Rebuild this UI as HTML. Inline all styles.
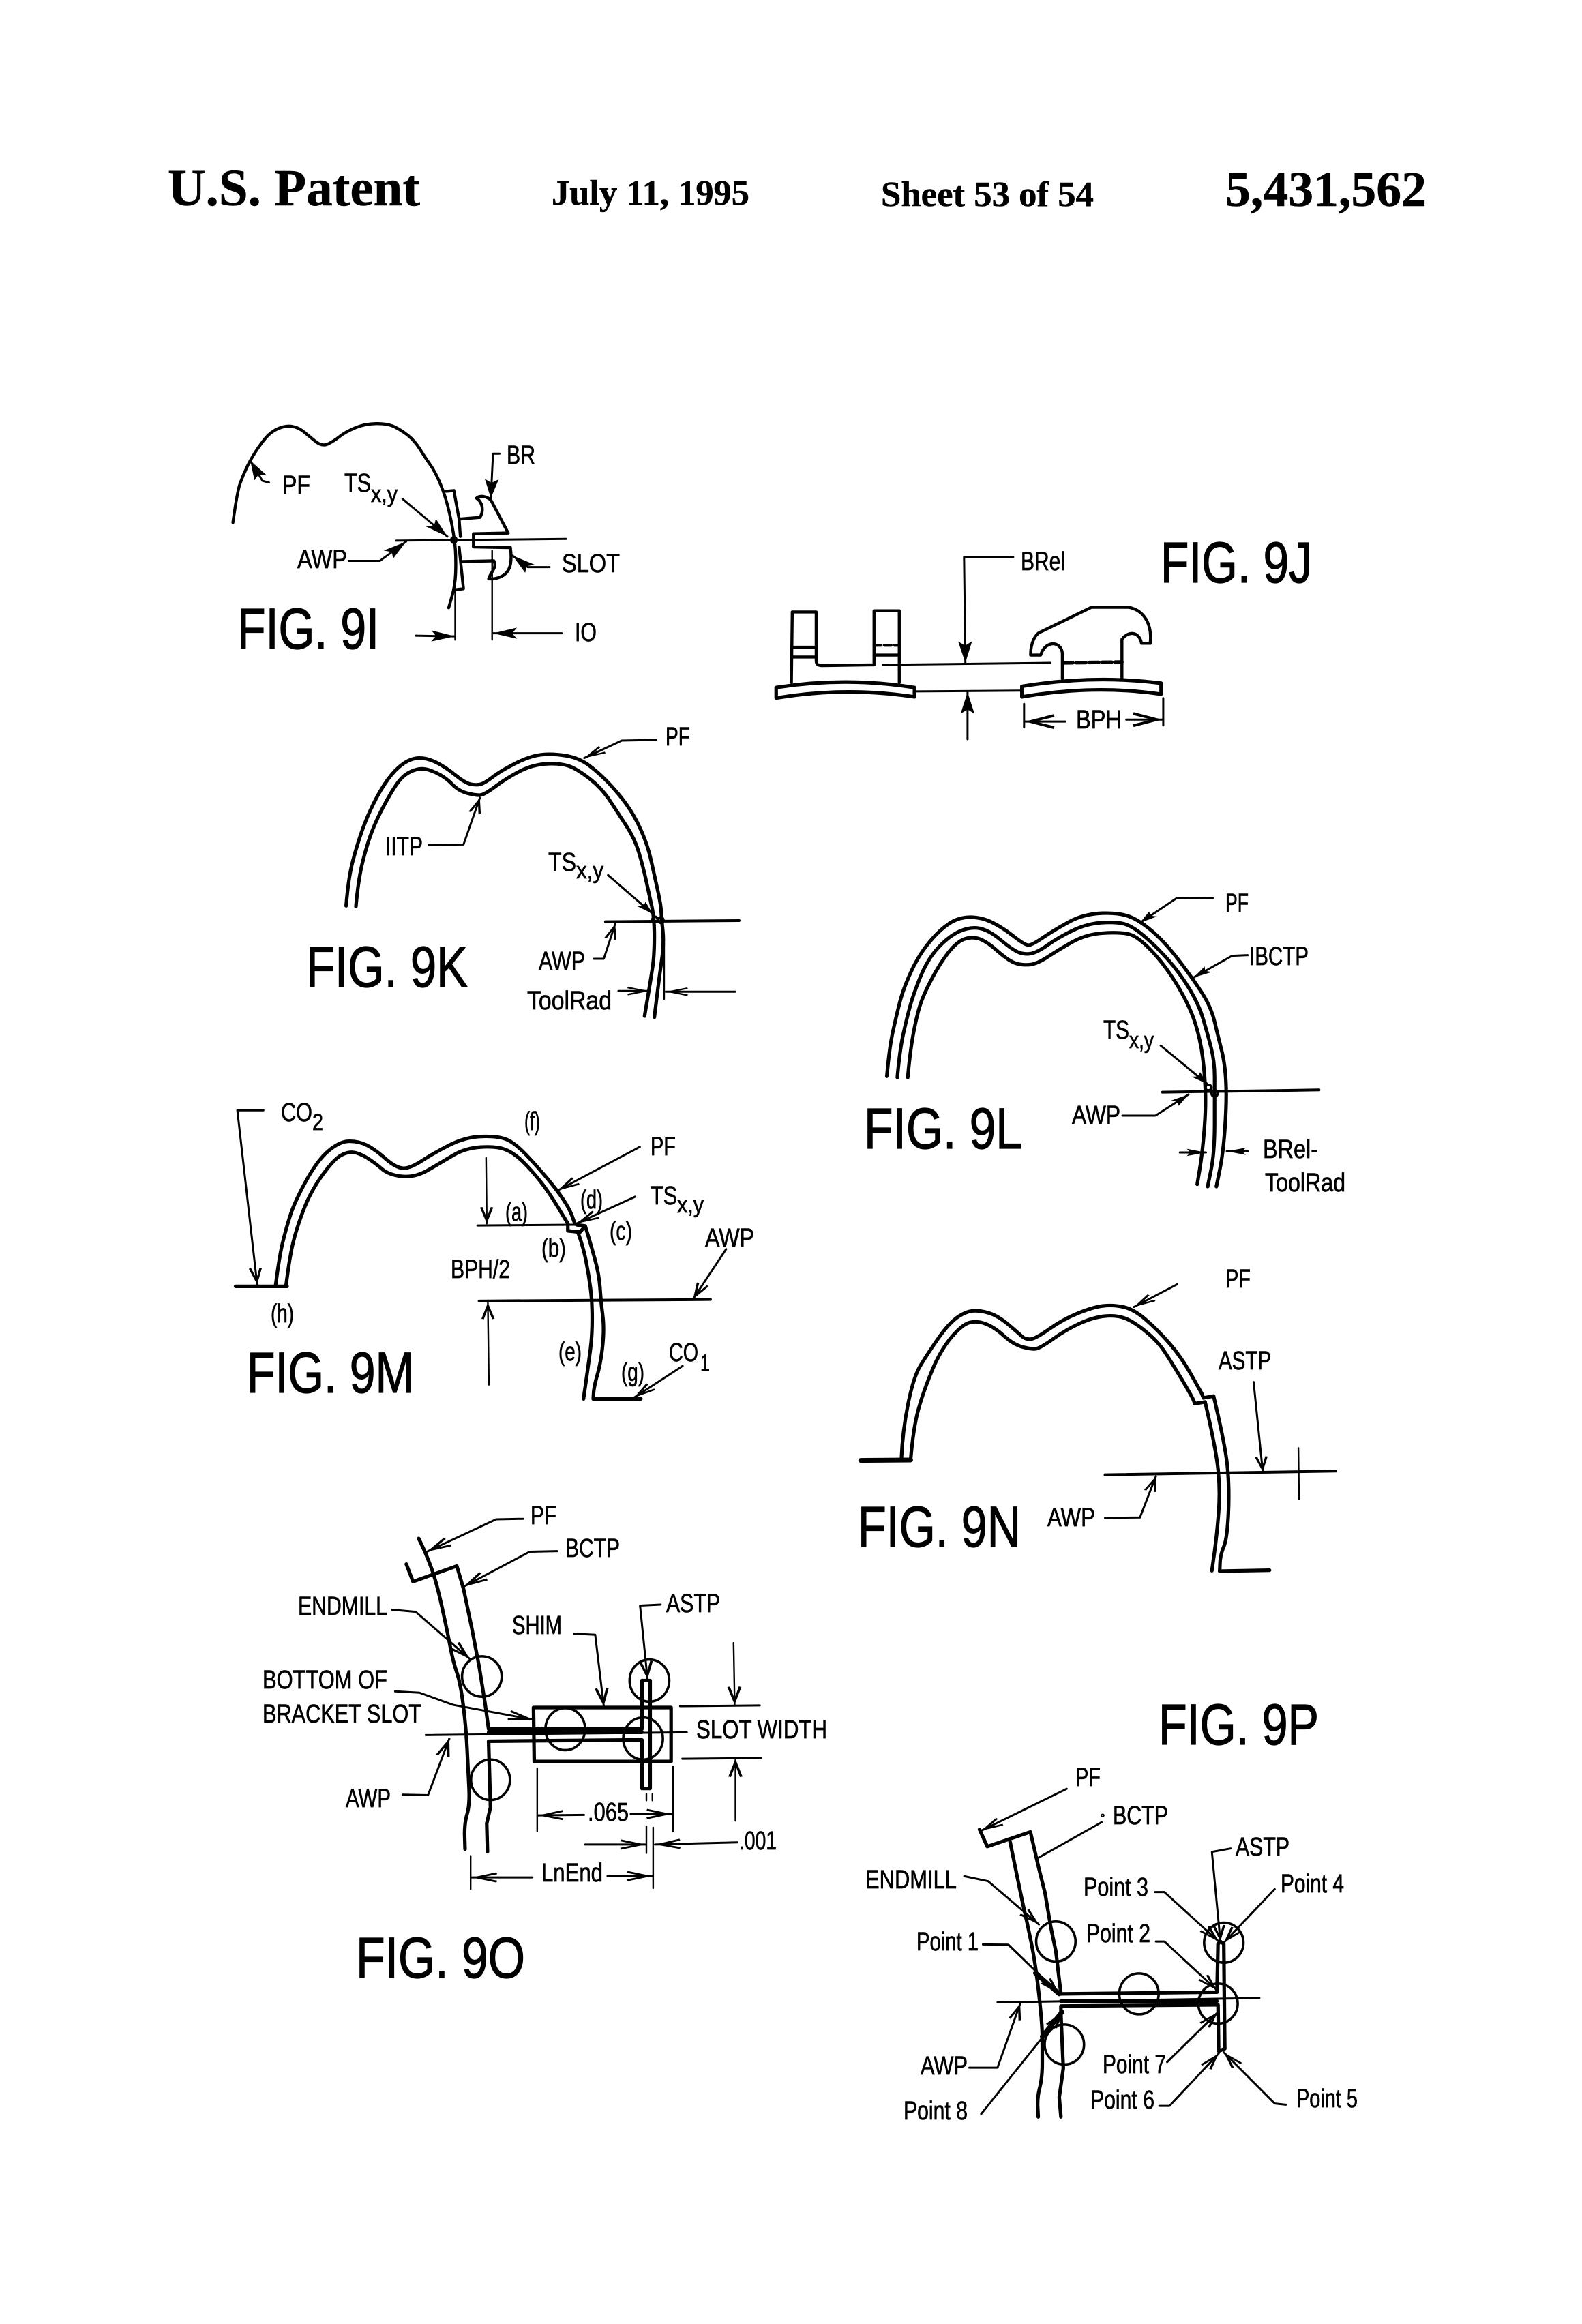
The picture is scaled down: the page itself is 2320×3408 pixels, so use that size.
<!DOCTYPE html>
<html>
<head>
<meta charset="utf-8">
<style>
html,body{margin:0;padding:0;background:#fff}
svg{display:block}
.d path,.d ellipse,.d line{fill:none;stroke:#000;stroke-width:3;stroke-linejoin:round;stroke-linecap:round;vector-effect:non-scaling-stroke}
.d ellipse{stroke-width:3.6}
.d path.t{stroke-width:5.2}
.d path.v{stroke-width:7}
.d path.n{stroke-width:2.4}
text{font-family:"Liberation Sans",sans-serif;fill:#000;stroke:#000;stroke-width:.7px;font-size:38px}
text.f{font-size:84px;stroke-width:1.3px}
text.s{font-size:34px}
text.h{font-family:"Liberation Serif",serif;font-weight:bold;stroke-width:.5px}
</style>
</head>
<body>
<svg xmlns="http://www.w3.org/2000/svg" width="2320" height="3408" viewBox="0 0 2320 3408">
<defs>
<marker id="a" markerUnits="userSpaceOnUse" markerWidth="100" markerHeight="60" refX="70" refY="30" orient="auto"><path d="M70,30 L15,14 L26,30 L15,46 Z" fill="#000" stroke="none"/></marker>
<marker id="b" markerUnits="userSpaceOnUse" markerWidth="100" markerHeight="60" refX="70" refY="30" orient="auto"><path d="M70,30 L4,11 L2,18 L46,30 L2,42 L4,49 Z" fill="#000" stroke="none"/></marker>
</defs>
<rect width="2320" height="3408" fill="#fff"/>

<!-- Header -->
<text class="h" x="246" y="301" style="font-size:76px" textLength="370" lengthAdjust="spacingAndGlyphs">U.S. Patent</text>
<text class="h" x="809" y="300" style="font-size:52px" textLength="290" lengthAdjust="spacingAndGlyphs">July 11, 1995</text>
<text class="h" x="1292" y="302" style="font-size:52px" textLength="312" lengthAdjust="spacingAndGlyphs">Sheet 53 of 54</text>
<text class="h" x="1797" y="302" style="font-size:73px" textLength="295" lengthAdjust="spacingAndGlyphs">5,431,562</text>

<!-- FIG 9I -->
<g class="d" transform="translate(200,200) scale(0.6378,0.5102)">
<path class="t c" style="stroke-width:4.4px" d="M222,1110 L232,1020 245,975 262,930 285,885 310,848 345,830 375,838 400,865 428,892 455,875 480,850 525,826 578,825 610,845 640,875 665,925 685,960 705,1015 720,1080 732,1160 735,1220 733,1290 718,1355"/>
<path class="t" style="stroke-width:4.4px" d="M712,1020 L730,1018 742,1100 745,1150 M742,1180 L752,1300 L733,1303"/>
<path class="t" style="stroke-width:4.4px" d="M742,1100 L790,1095 C800,1075 795,1050 782,1040 C790,1030 805,1035 815,1045 L855,1140 L775,1142 L775,1180 L860,1182 C865,1230 860,1265 820,1272 L810,1272 C815,1250 830,1240 822,1220 L750,1222"/>
<path d="M597,1162 L988,1157"/>
<ellipse cx="730" cy="1160" rx="6" ry="8"/>
<path class="n" d="M733,1305 L733,1447 M818,1190 L818,1447"/>
<path d="M305,995 L290,990 L262,932" marker-end="url(#a)"/>
<path d="M612,1042 L715,1150" marker-end="url(#a)"/>
<path d="M488,1220 L560,1220 L620,1165" marker-end="url(#a)"/>
<path d="M835,912 L820,912 L815,1040" marker-end="url(#a)"/>
<path d="M950,1238 L900,1238 L865,1205" marker-end="url(#a)"/>
<path d="M642,1435 L733,1437" marker-end="url(#a)"/>
<path d="M978,1428 L820,1428" marker-end="url(#a)"/>
</g>
<text x="414" y="724" textLength="41" lengthAdjust="spacingAndGlyphs">PF</text>
<text x="743" y="680" textLength="42" lengthAdjust="spacingAndGlyphs">BR</text>
<text x="505" y="721" textLength="39" lengthAdjust="spacingAndGlyphs">TS</text>
<text class="s" x="544" y="736" textLength="39" lengthAdjust="spacingAndGlyphs">x,y</text>
<text x="436" y="833" textLength="73" lengthAdjust="spacingAndGlyphs">AWP</text>
<text x="824" y="839" textLength="85" lengthAdjust="spacingAndGlyphs">SLOT</text>
<text class="f" x="348" y="951" textLength="208" lengthAdjust="spacingAndGlyphs">FIG. 9I</text>
<text x="843" y="940" textLength="32" lengthAdjust="spacingAndGlyphs">IO</text>

<!-- FIG 9J -->
<g class="d" transform="translate(1100,200) scale(0.6378,0.574)">
<path class="t" style="stroke-width:4.4px" d="M95,1395 L97,1215 L152,1215 L152,1340 Q152,1352 165,1352 L285,1350 L285,1212 L343,1212 L343,1395"/>
<path class="t" style="stroke-width:4.4px" d="M97,1305 L152,1305 M97,1330 L152,1330 M285,1325 L343,1325"/>
<path class="t" style="stroke-width:4.4px" d="M285,1300 L343,1300" stroke-dasharray="10 5"/>
<path class="t" d="M60,1408 Q220,1380 378,1408 L378,1432 Q220,1405 60,1435 Z"/>
<path class="t" d="M625,1405 Q790,1375 945,1397 L945,1425 Q790,1400 625,1432 Z"/>
<path class="t" style="stroke-width:4.4px" d="M718,1385 L718,1320 C715,1290 680,1285 668,1325 L645,1325 C645,1295 655,1270 670,1265 L785,1203 L870,1203 C905,1210 925,1245 920,1295 L900,1295 C895,1265 870,1262 855,1285 L855,1385"/>
<path class="t" d="M720,1345 L855,1343" stroke-dasharray="14 5"/>
<path d="M305,1350 L690,1345 M378,1418 L625,1416"/>
<path d="M605,1075 L492,1075 L495,1345" marker-end="url(#a)"/>
<path d="M500,1540 L500,1420" marker-end="url(#a)"/>
<path d="M630,1450 L630,1510 M950,1435 L950,1505"/>
<path d="M725,1495 L632,1495" marker-end="url(#b)"/>
<path d="M865,1490 L948,1490" marker-end="url(#b)"/>
</g>
<text x="1497" y="836" textLength="65" lengthAdjust="spacingAndGlyphs">BRel</text>
<text class="f" x="1702" y="854" textLength="222" lengthAdjust="spacingAndGlyphs">FIG. 9J</text>
<text x="1578" y="1068" textLength="67" lengthAdjust="spacingAndGlyphs">BPH</text>

<!-- FIG 9K -->
<g class="d" transform="translate(400,1050) scale(0.4783,0.3333)">
<path class="t c" d="M225,835 L232,710 260,560 290,440 330,325 375,235 425,185 475,185 530,225 590,295 625,305 650,295 700,240 790,175 860,165 940,185 1000,250 1060,340 1110,440 1150,570 1170,700 1190,830 1192,890 1200,1000 1185,1150 1170,1325"/>
<path class="t c" d="M255,838 L262,720 290,560 320,450 365,330 400,260 445,230 480,235 530,270 570,330 625,350 650,345 720,270 800,212 890,208 940,240 1010,320 1060,430 1110,540 1135,660 1155,790 1170,890 1170,1050 1160,1150 1140,1320"/>
<path class="t" style="stroke-width:4px" d="M1020,905 L1430,900"/>
<ellipse cx="1172" cy="895" rx="8" ry="12"/><ellipse cx="1190" cy="898" rx="8" ry="12"/>
<path d="M1175,105 L1070,108 L955,185" marker-end="url(#b)"/>
<path d="M478,567 L585,565 L635,360" marker-end="url(#b)"/>
<path d="M1028,700 L1165,870" marker-end="url(#a)"/>
<path d="M985,1068 L1015,1068 L1050,915" marker-end="url(#b)"/>
<path d="M1060,1210 L1155,1210" marker-end="url(#b)"/>
<path d="M1418,1213 L1205,1213" marker-end="url(#b)"/>
<path class="n" d="M1200,1000 L1200,1245"/>
</g>
<text x="976" y="1093" textLength="36" lengthAdjust="spacingAndGlyphs">PF</text>
<text x="565" y="1254" textLength="55" lengthAdjust="spacingAndGlyphs">IITP</text>
<text x="804" y="1277" textLength="41" lengthAdjust="spacingAndGlyphs">TS</text>
<text class="s" x="845" y="1288" textLength="40" lengthAdjust="spacingAndGlyphs">x,y</text>
<text x="790" y="1422" textLength="68" lengthAdjust="spacingAndGlyphs">AWP</text>
<text class="f" x="449" y="1447" textLength="237" lengthAdjust="spacingAndGlyphs">FIG. 9K</text>
<text x="773" y="1480" textLength="124" lengthAdjust="spacingAndGlyphs">ToolRad</text>

<!-- FIG 9L -->
<g class="d" transform="translate(1220,1260) scale(0.5102,0.3333)">
<path class="t c" d="M158,955 L165,830 185,690 205,570 250,420 310,310 365,255 430,255 490,300 555,378 575,378 640,310 725,240 830,235 890,275 960,370 1035,520 1090,650 1110,780 1130,900 1135,1060 1125,1290 1105,1440"/>
<path class="t c" d="M188,960 L195,840 215,700 235,590 275,440 335,340 395,297 450,310 520,400 555,420 590,410 650,345 730,285 810,275 860,290 930,380 1000,500 1055,640 1080,770 1100,890 1100,1030 1100,1290 1080,1440"/>
<path class="t c" d="M218,960 L225,840 245,680 265,590 310,460 355,370 395,340 440,355 510,450 550,467 590,460 650,400 730,330 830,320 880,340 960,470 1030,650 1060,800 1072,950 1075,1100 1065,1290 1050,1430"/>
<path class="t" style="stroke-width:4px" d="M950,1025 L1400,1015"/>
<ellipse cx="1082" cy="1005" rx="9" ry="12"/><ellipse cx="1100" cy="1030" rx="9" ry="14"/>
<path d="M1095,170 L990,172 L885,280" marker-end="url(#a)"/>
<path d="M1195,422 L1150,425 L1040,520" marker-end="url(#a)"/>
<path d="M945,820 L1080,990" marker-end="url(#a)"/>
<path d="M835,1128 L930,1128 L1025,1035" marker-end="url(#a)"/>
<path d="M1000,1290 L1075,1290" marker-end="url(#a)"/>
<path d="M1195,1285 L1135,1285" marker-end="url(#a)"/>
</g>
<text x="1797" y="1337" textLength="34" lengthAdjust="spacingAndGlyphs">PF</text>
<text x="1832" y="1415" textLength="87" lengthAdjust="spacingAndGlyphs">IBCTP</text>
<text x="1618" y="1523" textLength="38" lengthAdjust="spacingAndGlyphs">TS</text>
<text class="s" x="1656" y="1537" textLength="36" lengthAdjust="spacingAndGlyphs">x,y</text>
<text x="1572" y="1648" textLength="71" lengthAdjust="spacingAndGlyphs">AWP</text>
<text class="f" x="1267" y="1684" textLength="232" lengthAdjust="spacingAndGlyphs">FIG. 9L</text>
<text x="1852" y="1698" textLength="81" lengthAdjust="spacingAndGlyphs">BRel-</text>
<text x="1855" y="1747" textLength="118" lengthAdjust="spacingAndGlyphs">ToolRad</text>

<!-- FIG 9M -->
<g class="d" transform="translate(320,1580) scale(0.5102,0.3571)">
<path class="t c" d="M165,855 L175,740 195,620 220,510 285,340 350,262 405,262 450,295 510,370 550,375 620,310 710,245 800,240 850,265 920,370 975,465 1010,540 1025,600"/>
<path class="t c" d="M195,855 L205,740 225,620 265,470 330,340 370,305 405,310 450,350 490,400 565,412 640,350 710,290 800,282 850,310 900,380 950,470 1005,600"/>
<path class="t" d="M1005,600 L1005,630 1040,635 1055,610 1030,605"/>
<path class="t c" d="M1055,610 L1070,680 1095,810 1100,920 1110,1030 1100,1170 1080,1270 1078,1320"/>
<path class="t" d="M1078,1320 L1215,1320"/>
<path class="t c" d="M1035,640 L1050,700 1065,810 1075,920 1075,1060 1065,1170 1050,1320"/>
<path class="t" d="M50,858 L198,858"/>
<path d="M745,608 L1030,605"/>
<path class="t" style="stroke-width:4px" d="M750,918 L1415,912"/>
<path d="M130,135 L55,135 L112,850" marker-end="url(#b)"/>
<path class="n" d="M770,330 L772,600" marker-end="url(#b)"/>
<path class="n" d="M778,1262 L775,925" marker-end="url(#b)"/>
<path d="M1212,285 L975,465" marker-end="url(#b)"/>
<path d="M1198,490 L1030,600" marker-end="url(#b)"/>
<path d="M1460,705 L1365,910" marker-end="url(#b)"/>
<path d="M1335,1185 L1195,1315" marker-end="url(#b)"/>
</g>
<text x="412" y="1644" textLength="46" lengthAdjust="spacingAndGlyphs">CO</text>
<text class="s" x="458" y="1657" textLength="16" lengthAdjust="spacingAndGlyphs">2</text>
<text x="769" y="1657" textLength="23" lengthAdjust="spacingAndGlyphs">(f)</text>
<text x="954" y="1694" textLength="37" lengthAdjust="spacingAndGlyphs">PF</text>
<text x="741" y="1790" textLength="33" lengthAdjust="spacingAndGlyphs">(a)</text>
<text x="851" y="1772" textLength="33" lengthAdjust="spacingAndGlyphs">(d)</text>
<text x="954" y="1766" textLength="39" lengthAdjust="spacingAndGlyphs">TS</text>
<text class="s" x="993" y="1778" textLength="39" lengthAdjust="spacingAndGlyphs">x,y</text>
<text x="894" y="1818" textLength="33" lengthAdjust="spacingAndGlyphs">(c)</text>
<text x="794" y="1843" textLength="36" lengthAdjust="spacingAndGlyphs">(b)</text>
<text x="1034" y="1828" textLength="72" lengthAdjust="spacingAndGlyphs">AWP</text>
<text x="661" y="1874" textLength="87" lengthAdjust="spacingAndGlyphs">BPH/2</text>
<text x="397" y="1939" textLength="34" lengthAdjust="spacingAndGlyphs">(h)</text>
<text x="819" y="1995" textLength="34" lengthAdjust="spacingAndGlyphs">(e)</text>
<text x="911" y="2025" textLength="34" lengthAdjust="spacingAndGlyphs">(g)</text>
<text x="981" y="1996" textLength="43" lengthAdjust="spacingAndGlyphs">CO</text>
<text class="s" x="1027" y="2010" textLength="14" lengthAdjust="spacingAndGlyphs">1</text>
<text class="f" x="362" y="2042" textLength="245" lengthAdjust="spacingAndGlyphs">FIG. 9M</text>

<!-- FIG 9N -->
<g class="d" transform="translate(1220,1800) scale(0.4975,0.3333)">
<path class="v" d="M85,1025 L232,1023"/>
<path class="t c" d="M205,1015 L208,900 240,660 280,560 345,420 400,365 450,368 495,395 550,465 570,493 600,490 680,405 770,350 830,340 890,360 960,450 1030,570 1090,730"/>
<path class="t" d="M1090,730 L1095,750 1125,742"/>
<path class="t c" d="M1125,742 L1160,960 1172,1150 1165,1370 1145,1440 1143,1512"/>
<path class="t" d="M1143,1512 L1290,1508"/>
<path class="t c" d="M232,1023 L240,880 270,720 320,540 385,425 430,410 480,440 535,515 590,537 615,530 690,450 770,395 840,385 890,415 960,500 1000,590 1060,740 1070,775"/>
<path class="t" d="M1070,775 L1100,768"/>
<path class="t c" d="M1100,768 L1130,960 1145,1150 1135,1350 1120,1510"/>
<path class="t" style="stroke-width:4px" d="M805,1088 L1485,1072"/>
<path class="n" d="M1375,970 L1377,1195"/>
<path d="M1018,250 L890,350" marker-end="url(#b)"/>
<path d="M1243,680 L1270,1075" marker-end="url(#b)"/>
<path d="M805,1278 L908,1276 L955,1095" marker-end="url(#b)"/>
</g>
<text x="1797" y="1888" textLength="37" lengthAdjust="spacingAndGlyphs">PF</text>
<text x="1787" y="2008" textLength="77" lengthAdjust="spacingAndGlyphs">ASTP</text>
<text x="1536" y="2238" textLength="70" lengthAdjust="spacingAndGlyphs">AWP</text>
<text class="f" x="1258" y="2268" textLength="239" lengthAdjust="spacingAndGlyphs">FIG. 9N</text>

<!-- FIG 9O -->
<g class="d" transform="translate(360,2160) scale(0.5485,0.3954)">
<path class="t c" d="M463,243 L480,290 510,400 540,590 555,700 575,780 590,950 595,1100 600,1230 585,1300 587,1395"/>
<path class="t" d="M430,338 L448,403 565,345 583,430 605,575 625,720 640,850 650,950 1060,950 1060,770 1082,770 1082,1170 1060,1170 1060,990 650,995 655,1240 645,1300 647,1405"/>
<path class="t" d="M650,962 L1060,962"/>
<path class="t" d="M770,870 L1138,870 1138,1070 772,1070 Z"/>
<ellipse cx="632" cy="755" rx="53" ry="75"/>
<ellipse cx="1080" cy="770" rx="53" ry="78"/>
<ellipse cx="855" cy="950" rx="53" ry="78"/>
<ellipse cx="1063" cy="985" rx="53" ry="78"/>
<ellipse cx="655" cy="1138" rx="52" ry="75"/>
<path d="M482,972 L1180,962"/>
<path d="M1162,865 L1375,862 M1168,1060 L1378,1057"/>
<path class="n" d="M1305,630 L1308,860" marker-end="url(#b)"/>
<path class="n" d="M1310,1290 L1310,1060" marker-end="url(#b)"/>
<path d="M742,170 L670,172 L485,292" marker-end="url(#b)"/>
<path d="M833,290 L760,292 L583,422" marker-end="url(#b)"/>
<path d="M392,507 L455,515 L600,690" marker-end="url(#b)"/>
<path d="M878,596 L935,600 L958,865" marker-end="url(#b)"/>
<path d="M1110,488 L1055,492 L1075,765" marker-end="url(#b)"/>
<path d="M400,810 L465,815 L555,860 L770,915" marker-end="url(#b)"/>
<path d="M420,1193 L488,1195 L545,985" marker-end="url(#b)"/>
<path class="n" d="M780,1095 L780,1330 M1143,1090 L1143,1330 M1072,1310 L1072,1410 M1090,1315 L1090,1540 M1072,1190 L1072,1215 M1088,1190 L1088,1215 M602,1420 L602,1545"/>
<path d="M905,1268 L782,1270" marker-end="url(#b)"/>
<path d="M1030,1265 L1140,1265" marker-end="url(#b)"/>
<path d="M908,1378 L1070,1378" marker-end="url(#b)"/>
<path d="M1315,1370 L1095,1378" marker-end="url(#b)"/>
<path d="M767,1500 L605,1500" marker-end="url(#b)"/>
<path d="M968,1495 L1088,1495" marker-end="url(#b)"/>
</g>
<text x="778" y="2235" textLength="38" lengthAdjust="spacingAndGlyphs">PF</text>
<text x="829" y="2283" textLength="80" lengthAdjust="spacingAndGlyphs">BCTP</text>
<text x="437" y="2368" textLength="131" lengthAdjust="spacingAndGlyphs">ENDMILL</text>
<text x="977" y="2364" textLength="79" lengthAdjust="spacingAndGlyphs">ASTP</text>
<text x="751" y="2396" textLength="73" lengthAdjust="spacingAndGlyphs">SHIM</text>
<text x="385" y="2476" textLength="183" lengthAdjust="spacingAndGlyphs">BOTTOM OF</text>
<text x="385" y="2526" textLength="233" lengthAdjust="spacingAndGlyphs">BRACKET SLOT</text>
<text x="1021" y="2549" textLength="192" lengthAdjust="spacingAndGlyphs">SLOT WIDTH</text>
<text x="507" y="2650" textLength="66" lengthAdjust="spacingAndGlyphs">AWP</text>
<text x="862" y="2670" textLength="60" lengthAdjust="spacingAndGlyphs">.065</text>
<text x="1084" y="2712" textLength="55" lengthAdjust="spacingAndGlyphs">.001</text>
<text x="794" y="2759" textLength="90" lengthAdjust="spacingAndGlyphs">LnEnd</text>
<text class="f" x="522" y="2900" textLength="248" lengthAdjust="spacingAndGlyphs">FIG. 9O</text>

<!-- FIG 9P -->
<text class="f" x="1699" y="2558" textLength="235" lengthAdjust="spacingAndGlyphs">FIG. 9P</text>
<g class="d" transform="translate(1230,2540) scale(0.4975,0.3571)">
<path class="t" d="M415,400 L438,470 565,410 590,560 608,660 625,800 640,900 655,1075 1115,1068 1118,870 1125,860 1135,870 1138,1300 1120,1310 1118,1120 655,1125 655,1160 662,1380 650,1500 655,1580"/>
<path class="t c" d="M505,450 L540,690 555,780 580,950 600,1200 600,1300 600,1420 585,1500 588,1580"/>
<path class="t" d="M655,1105 L1115,1105"/>
<path class="v" d="M580,990 L650,1075 M658,1150 L600,1250"/>
<ellipse cx="640" cy="860" rx="58" ry="82"/>
<ellipse cx="1135" cy="865" rx="58" ry="82"/>
<ellipse cx="885" cy="1075" rx="58" ry="84"/>
<ellipse cx="1118" cy="1115" rx="58" ry="82"/>
<ellipse cx="665" cy="1283" rx="58" ry="82"/>
<path d="M468,1110 L1240,1092"/>
<path d="M672,233 L420,405" marker-end="url(#b)"/>
<path d="M775,370 L590,515"/>
<ellipse cx="778" cy="342" rx="2" ry="2"/>
<path d="M370,592 L440,612 L590,790" marker-end="url(#b)"/>
<path d="M425,872 L500,873 L650,1075" marker-end="url(#b)"/>
<path d="M935,860 L960,860 L1115,1060" marker-end="url(#b)"/>
<path d="M932,657 L960,657 L1120,860" marker-end="url(#b)"/>
<path d="M1155,478 L1100,492 L1125,860" marker-end="url(#b)"/>
<path d="M1285,645 L1135,865" marker-end="url(#b)"/>
<path d="M968,1355 L1118,1150" marker-end="url(#b)"/>
<path d="M945,1535 L975,1535 L1120,1320" marker-end="url(#b)"/>
<path d="M1318,1530 L1285,1525 L1135,1315" marker-end="url(#b)"/>
<path d="M420,1568 L660,1150" marker-end="url(#b)"/>
<path d="M385,1378 L468,1378 L535,1115" marker-end="url(#b)"/>
</g>
<text x="1577" y="2619" textLength="37" lengthAdjust="spacingAndGlyphs">PF</text>
<text x="1632" y="2675" textLength="81" lengthAdjust="spacingAndGlyphs">BCTP</text>
<text x="1812" y="2721" textLength="79" lengthAdjust="spacingAndGlyphs">ASTP</text>
<text x="1269" y="2769" textLength="134" lengthAdjust="spacingAndGlyphs">ENDMILL</text>
<text x="1589" y="2780" textLength="95" lengthAdjust="spacingAndGlyphs">Point 3</text>
<text x="1878" y="2775" textLength="93" lengthAdjust="spacingAndGlyphs">Point 4</text>
<text x="1593" y="2848" textLength="94" lengthAdjust="spacingAndGlyphs">Point 2</text>
<text x="1344" y="2860" textLength="91" lengthAdjust="spacingAndGlyphs">Point 1</text>
<text x="1350" y="3042" textLength="69" lengthAdjust="spacingAndGlyphs">AWP</text>
<text x="1617" y="3040" textLength="93" lengthAdjust="spacingAndGlyphs">Point 7</text>
<text x="1599" y="3092" textLength="94" lengthAdjust="spacingAndGlyphs">Point 6</text>
<text x="1901" y="3090" textLength="90" lengthAdjust="spacingAndGlyphs">Point 5</text>
<text x="1325" y="3108" textLength="94" lengthAdjust="spacingAndGlyphs">Point 8</text>
</svg>
<script>
document.querySelectorAll('path.c').forEach(function(p){
  var n=p.getAttribute('d').match(/-?\d+(\.\d+)?/g).map(Number),q=[];
  for(var i=0;i<n.length;i+=2)q.push([n[i],n[i+1]]);
  var d='M'+q[0][0]+','+q[0][1];
  for(var j=1;j<q.length-1;j++){
    var mx=(q[j][0]+q[j+1][0])/2,my=(q[j][1]+q[j+1][1])/2;
    d+=' Q'+q[j][0]+','+q[j][1]+' '+mx+','+my;
  }
  d+=' L'+q[q.length-1][0]+','+q[q.length-1][1];
  p.setAttribute('d',d);
});
</script>
</body>
</html>
